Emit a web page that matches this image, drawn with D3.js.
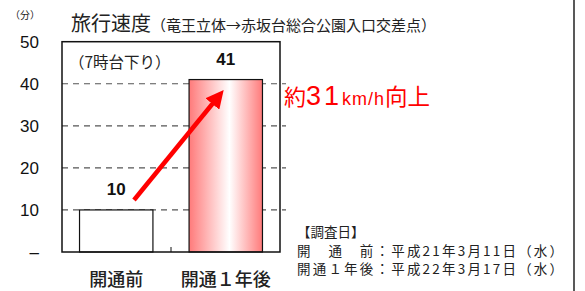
<!DOCTYPE html>
<html>
<head>
<meta charset="utf-8">
<script src="https://cdn.jsdelivr.net/npm/d3@7"></script>
<style>
  body { margin: 0; background: #fff; }
  svg { display: block; font-family: "Noto Sans CJK JP", "Noto Sans", sans-serif; }
</style>
</head>
<body>
<div id="chart"></div>
<script>
const categories = ["開通前", "開通１年後"];
const values = [10, 41];
const yTicks = [0, 10, 20, 30, 40, 50];
const yTickLabels = ["–", "10", "20", "30", "40", "50"];
const surveyNotes = ["【調査日】", "開　通　前：平成21年3月11日（水）", "開通１年後：平成22年3月17日（水）"];

const width = 585, height = 291;
const plot = { left: 62, right: 280, top: 41.7, bottom: 252 };

const svg = d3.select("#chart").append("svg")
    .attr("width", width)
    .attr("height", height);

// グラデーション
const grad = svg.append("defs").append("linearGradient")
    .attr("id", "barGrad")
    .attr("x1", "0%").attr("x2", "100%").attr("y1", "0%").attr("y2", "0%");
grad.append("stop").attr("offset", "0%").attr("stop-color", "#ff7a7a");
grad.append("stop").attr("offset", "55%").attr("stop-color", "#ffffff");
grad.append("stop").attr("offset", "100%").attr("stop-color", "#ff7a7a");

const x = d3.scaleBand()
    .domain(categories)
    .range([plot.left, plot.right])
    .paddingInner(0.33)
    .paddingOuter(0.16);

const y = d3.scaleLinear()
    .domain([0, 50])
    .range([plot.bottom, plot.top]);

// 外枠（右端）
svg.append("line")
    .attr("x1", 574).attr("x2", 574)
    .attr("y1", 0).attr("y2", height)
    .attr("stroke", "#222").attr("stroke-width", 1.5);

// グリッド線
svg.append("g")
    .selectAll("line")
    .data(yTicks.filter(d => d > 0 && d < 50))
    .join("line")
    .attr("x1", plot.left)
    .attr("x2", plot.right + 6)
    .attr("y1", d => y(d))
    .attr("y2", d => y(d))
    .attr("stroke", "#555")
    .attr("stroke-width", 1.2)
    .attr("stroke-dasharray", "6,5");

// 棒
svg.append("g")
    .selectAll("rect")
    .data(values)
    .join("rect")
    .attr("x", (d, i) => x(categories[i]))
    .attr("y", d => y(d))
    .attr("width", x.bandwidth())
    .attr("height", d => y(0) - y(d))
    .attr("fill", (d, i) => i === 1 ? "url(#barGrad)" : "#fff")
    .attr("stroke", "#111")
    .attr("stroke-width", 1.2);

// 枠
svg.append("rect")
    .attr("x", plot.left)
    .attr("y", plot.top)
    .attr("width", plot.right - plot.left)
    .attr("height", plot.bottom - plot.top)
    .attr("fill", "none")
    .attr("stroke", "#111")
    .attr("stroke-width", 1.5);

// カテゴリ間の目盛り
const midX = (x(categories[0]) + x.bandwidth() + x(categories[1])) / 2;
svg.append("line")
    .attr("x1", midX).attr("x2", midX)
    .attr("y1", plot.bottom).attr("y2", plot.bottom - 5)
    .attr("stroke", "#111");

// Y軸ラベル
svg.append("g")
    .selectAll("text")
    .data(yTicks)
    .join("text")
    .attr("x", 39)
    .attr("y", d => y(d) + 6)
    .attr("text-anchor", "end")
    .style("font-family", "Arial, 'Liberation Sans', sans-serif")
    .style("font-size", "17px")
    .attr("fill", "#111")
    .text((d, i) => yTickLabels[i]);

// X軸ラベル
svg.append("g")
    .selectAll("text")
    .data(categories)
    .join("text")
    .attr("x", d => x(d) + x.bandwidth() / 2)
    .attr("y", 286)
    .attr("text-anchor", "middle")
    .style("font-size", "18px")
    .style("font-weight", "500")
    .attr("fill", "#222")
    .text(d => d);

// 値ラベル
svg.append("g")
    .selectAll("text")
    .data(values)
    .join("text")
    .attr("x", (d, i) => x(categories[i]) + x.bandwidth() / 2)
    .attr("y", d => y(d) - 14.5)
    .attr("text-anchor", "middle")
    .style("font-family", "Arial, 'Liberation Sans', sans-serif")
    .style("font-size", "17px")
    .style("font-weight", "bold")
    .attr("fill", "#111")
    .text(d => d);

// タイトル
svg.append("text")
    .attr("x", 10).attr("y", 19)
    .style("font-size", "10px")
    .attr("fill", "#222")
    .text("（分）");

const title = svg.append("text")
    .attr("x", 71).attr("y", 31)
    .attr("fill", "#222");
title.append("tspan").style("font-size", "20px").text("旅行速度");
title.append("tspan").style("font-size", "15px").text("（竜王立体→赤坂台総合公園入口交差点）");

svg.append("text")
    .attr("x", 69).attr("y", 68)
    .style("font-size", "15.5px")
    .attr("fill", "#222")
    .text("（7時台下り）");

// 矢印
svg.append("defs").append("marker")
    .attr("id", "arrowHead")
    .attr("viewBox", "0 0 10 10")
    .attr("refX", 5).attr("refY", 5)
    .attr("markerWidth", 4).attr("markerHeight", 4)
    .attr("orient", "auto")
    .append("path")
    .attr("d", "M0,0 L10,5 L0,10 z")
    .attr("fill", "#ff0000");

svg.append("line")
    .attr("x1", 134).attr("y1", 200)
    .attr("x2", 218).attr("y2", 97)
    .attr("stroke", "#ff0000")
    .attr("stroke-width", 4.5)
    .attr("marker-end", "url(#arrowHead)");

// 向上ラベル
const gain = svg.append("text")
    .attr("x", 284).attr("y", 105)
    .attr("fill", "#ff0000");
gain.append("tspan").style("font-size", "22px").text("約");
gain.append("tspan").style("font-size", "27px")
    .style("font-family", "Arial, 'Liberation Sans', sans-serif")
    .style("letter-spacing", "3px").text("31");
gain.append("tspan").style("font-size", "18px")
    .style("font-family", "Arial, 'Liberation Sans', sans-serif")
    .style("letter-spacing", "1px").text("km/h");
gain.append("tspan").style("font-size", "22.5px").text("向上");

// 調査日
svg.append("g")
    .selectAll("text")
    .data(surveyNotes)
    .join("text")
    .attr("x", 297)
    .attr("y", (d, i) => 237 + i * 18.5)
    .style("font-size", "13.5px")
    .style("letter-spacing", (d, i) => i === 0 ? "0px" : "2.2px")
    .attr("fill", "#222")
    .text(d => d);
</script>
</body>
</html>
